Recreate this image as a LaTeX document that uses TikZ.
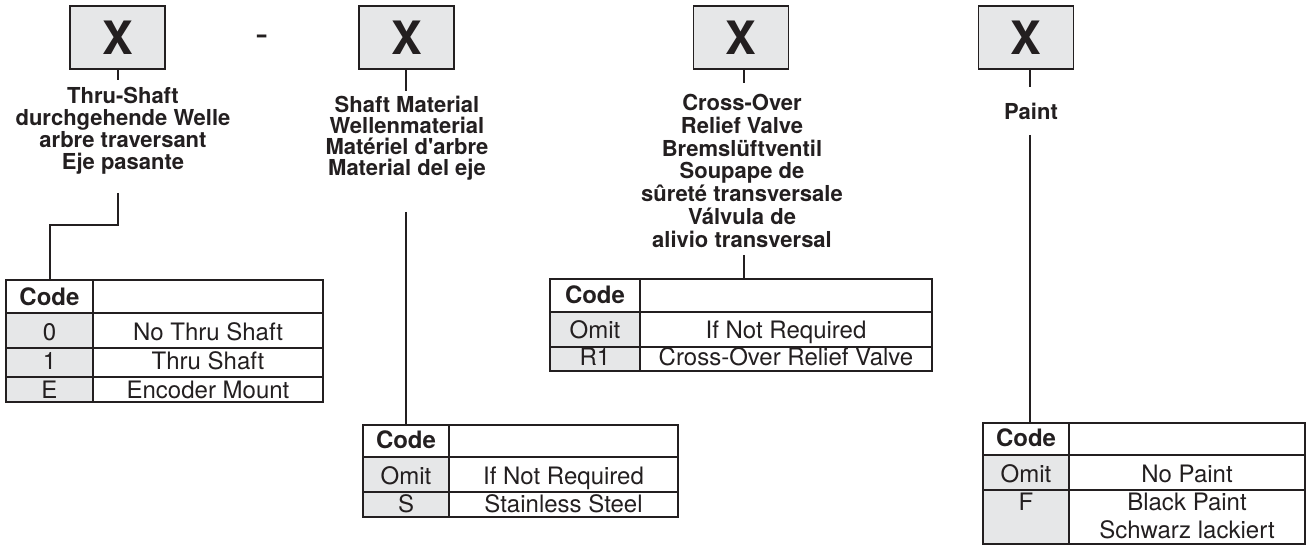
\documentclass[tikz,border=0pt]{standalone}
\usepackage{fontspec}
\setmainfont{TeX Gyre Heros}
\definecolor{ink}{HTML}{231F20}
\definecolor{boxgray}{HTML}{E6E7E8}
\definecolor{cellgray}{HTML}{E6E7E8}
\tikzset{
  tline/.style={line width=2.4pt, draw=ink},
  conn/.style={line width=2pt, draw=ink},
  ttext/.style={font=\fontsize{24}{26}\selectfont, anchor=base, inner sep=0pt, text=ink},
  thead/.style={font=\fontsize{24}{26}\selectfont\bfseries, anchor=base, inner sep=0pt, text=ink},
  lbl/.style={font=\fontsize{22}{22}\selectfont\bfseries, align=center, inner sep=0pt, anchor=north, text=ink},
  xbox/.style={draw=ink, line width=1.6pt, fill=boxgray, minimum width=95pt, minimum height=63pt,
    inner sep=0pt, font=\fontsize{46}{46}\selectfont\bfseries, text=ink},
}
\begin{document}
\begin{tikzpicture}[x=1pt,y=-1pt]
\useasboundingbox (0,0) rectangle (1307,545);

% ---------- code boxes ----------
\node[xbox] (b1) at (117.5,37.5) {X};
\node[xbox] (b2) at (406.5,37.5) {X};
\node[xbox] (b3) at (741,37.5) {X};
\node[xbox] (b4) at (1026,37.5) {X};
\node[font=\fontsize{40}{40}\selectfont, anchor=base, inner sep=0pt, text=ink] (dash) at (262,48) {-};

% ---------- labels ----------
\node[lbl, font=\fontsize{22}{22}\selectfont\bfseries] (l1) at (123,87)
  {Thru-Shaft\\durchgehende Welle\\arbre traversant\\Eje pasante};
\node[lbl, font=\fontsize{22}{21}\selectfont\bfseries] (l2) at (407,96)
  {Shaft Material\\Wellenmaterial\\Mat\'eriel d\textquotesingle arbre\\Material del eje};
\node[lbl, font=\fontsize{22}{22.8}\selectfont\bfseries] (l3) at (742,94)
  {Cross-Over\\Relief Valve\\Bremsl\"uftventil\\Soupape de\\s\^uret\'e transversale\\V\'alvula de\\alivio transversal};
\node[font=\fontsize{22}{22}\selectfont\bfseries, anchor=base, inner sep=0pt, text=ink] (l4) at (1031,120) {Paint};

% ---------- connector end points ----------
\coordinate (s1a) at (118,80);
\coordinate (s2a) at (406,91);
\coordinate (s3a) at (744,83);
\coordinate (s4a) at (1030,87);
\coordinate (l1b) at (118,193);
\coordinate (l2b) at (406,212);
\coordinate (l3b) at (744,255);
\coordinate (l4b) at (1030,135);
\coordinate (t1n) at (50,280);
\coordinate (t2n) at (406,425);
\coordinate (t3n) at (744,279);
\coordinate (t4n) at (1030,423);

\draw[conn] (b1.south -| s1a) -- (s1a);
\draw[conn] (b2.south -| s2a) -- (s2a);
\draw[conn] (b3.south -| s3a) -- (s3a);
\draw[conn] (b4.south -| s4a) -- (s4a);
\draw[conn] (l1b) -- ++(0,32) -| (t1n);
\draw[conn] (l2b) -- (t2n);
\draw[conn] (l3b) -- (t3n);
\draw[conn] (l4b) -- (t4n);

% ---------- table 1 ----------
\fill[cellgray] (6,313) rectangle (93,402);
\draw[tline] (6,280) rectangle (323,402);
\draw[tline] (93,280) -- (93,402);
\draw[tline] (6,313) -- (323,313) (6,348) -- (323,348) (6,377) -- (323,377);
\node[thead] (t1c) at (49.5,306) {Code};
\node[ttext] (t1a) at (49.5,341) {0};
\node[ttext] (t1b) at (49.5,370) {1};
\node[ttext] (t1e) at (49.5,398) {E};
\node[ttext] (t1ad) at (208,341) {No Thru Shaft};
\node[ttext] (t1bd) at (208,370) {Thru Shaft};
\node[ttext] (t1ed) at (208,398) {Encoder Mount};

% ---------- table 2 ----------
\fill[cellgray] (363,457) rectangle (449,517);
\draw[tline] (363,425) rectangle (678,517);
\draw[tline] (449,425) -- (449,517);
\draw[tline] (363,457) -- (678,457) (363,492) -- (678,492);
\node[thead] (t2c) at (406,448) {Code};
\node[ttext] (t2a) at (406,484) {Omit};
\node[ttext] (t2b) at (406,512) {S};
\node[ttext] (t2ad) at (563.5,484) {If Not Required};
\node[ttext] (t2bd) at (563.5,512) {Stainless Steel};

% ---------- table 3 ----------
\fill[cellgray] (550,312) rectangle (640,371);
\draw[tline] (550,279) rectangle (932,371);
\draw[tline] (640,279) -- (640,371);
\draw[tline] (550,312) -- (932,312) (550,347) -- (932,347);
\node[thead] (t3c) at (595,304) {Code};
\node[ttext] (t3a) at (595,339) {Omit};
\node[ttext] (t3b) at (595,366) {R1};
\node[ttext] (t3ad) at (786,339) {If Not Required};
\node[ttext] (t3bd) at (786,366) {Cross-Over Relief Valve};

% ---------- table 4 ----------
\fill[cellgray] (983,455) rectangle (1069,544);
\draw[tline] (983,423) rectangle (1305,544);
\draw[tline] (1069,423) -- (1069,544);
\draw[tline] (983,455) -- (1305,455) (983,490) -- (1305,490);
\node[thead] (t4c) at (1026,446) {Code};
\node[ttext] (t4a) at (1026,482) {Omit};
\node[ttext] (t4b) at (1026,510) {F};
\node[ttext] (t4ad) at (1187,482) {No Paint};
\node[ttext] (t4bd) at (1187,510) {Black Paint};
\node[ttext] (t4bd2) at (1187,538) {Schwarz lackiert};
\end{tikzpicture}
\end{document}
